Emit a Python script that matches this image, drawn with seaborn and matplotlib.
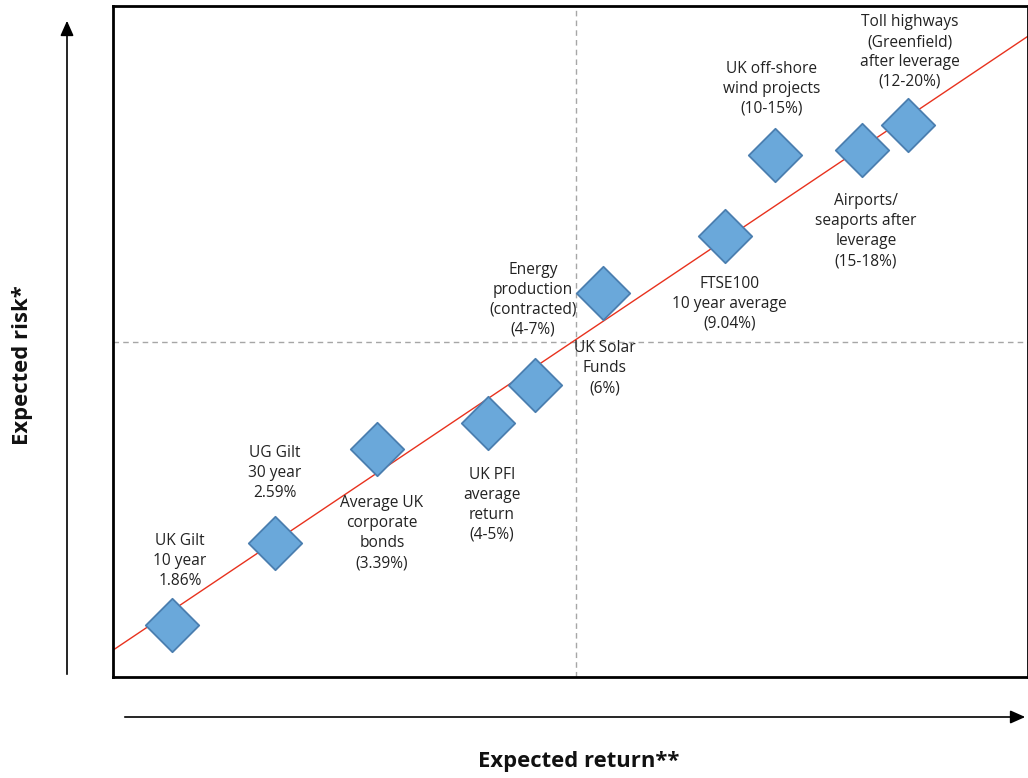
import numpy as np
import pandas as pd
import matplotlib
matplotlib.use('Agg')
import matplotlib.pyplot as plt
import seaborn as sns

# Values (arbitrary 0-100 units on both axes)
assets = ['UK Gilt 10y', 'UG Gilt 30y', 'Avg UK corp bonds', 'UK PFI', 'UK Solar Funds',
          'Energy production', 'FTSE100', 'UK off-shore wind', 'Airports/seaports', 'Toll highways']
expected_return = [6.4, 17.7, 28.9, 41.0, 46.1, 53.6, 66.9, 72.4, 81.9, 86.9]
expected_risk = [7.8, 20.0, 34.0, 37.9, 43.5, 57.2, 65.7, 77.8, 78.5, 82.3]

labels = ['UK Gilt\n10 year\n1.86%',
          'UG Gilt\n30 year\n2.59%',
          'Average UK\ncorporate\nbonds\n(3.39%)',
          'UK PFI\naverage\nreturn\n(4-5%)',
          'UK Solar\nFunds\n(6%)',
          'Energy\nproduction\n(contracted)\n(4-7%)',
          'FTSE100\n10 year average\n(9.04%)',
          'UK off-shore\nwind projects\n(10-15%)',
          'Airports/\nseaports after\nleverage\n(15-18%)',
          'Toll highways\n(Greenfield)\nafter leverage\n(12-20%)']
label_pos = [(7.3, 21.5), (17.7, 34.6), (29.4, 27.1), (41.4, 31.3), (53.7, 50.2),
             (45.9, 61.9), (67.4, 59.8), (72.0, 91.8), (82.3, 72.1), (87.1, 98.8)]

# trend line end points
trend_x = [0, 100]
trend_y = [4.0, 95.5]

df = pd.DataFrame({'asset': assets, 'ret': expected_return, 'risk': expected_risk})

sns.set_style('white')
plt.rcParams['font.family'] = ['Open Sans', 'DejaVu Sans']

fig = plt.figure(figsize=(10.28, 7.78), dpi=100)
ax = fig.add_axes([113 / 1028, 1 - 677 / 778, 915 / 1028, 671 / 778])

ax.axvline(50.6, color='#a6a6a6', lw=1, ls=(0, (4, 3)), zorder=1)
ax.axhline(50.0, color='#a6a6a6', lw=1, ls=(0, (4, 3)), zorder=1)
ax.plot(trend_x, trend_y, color='#e8321e', lw=1, zorder=2)

sns.scatterplot(data=df, x='ret', y='risk', marker='D', s=740, color='#6aa8da',
                edgecolor='#4a7eaf', linewidth=1.3, zorder=3, ax=ax)

for txt, (lx, ly) in zip(labels, label_pos):
    ax.text(lx, ly, txt, ha='center', va='top', fontsize=11.2, color='#222222',
            linespacing=1.33, zorder=4)

ax.set_xlim(0, 100)
ax.set_ylim(0, 100)
ax.set_xticks([])
ax.set_yticks([])
ax.set_xlabel('')
ax.set_ylabel('')
for sp in ax.spines.values():
    sp.set_color('black')
    sp.set_linewidth(2)

# axis arrows outside the box
arrow_style = '-|>,head_length=0.45,head_width=0.2'
fig.add_artist(matplotlib.patches.FancyArrowPatch(
    (67 / 1028, 1 - 677 / 778), (67 / 1028, 1 - 18 / 778), transform=fig.transFigure,
    arrowstyle=arrow_style, mutation_scale=20, color='black', lw=1.2))
fig.add_artist(matplotlib.patches.FancyArrowPatch(
    (122 / 1028, 1 - 717 / 778), (1028 / 1028, 1 - 717 / 778), transform=fig.transFigure,
    arrowstyle=arrow_style, mutation_scale=20, color='black', lw=1.2))

fig.text(23 / 1028, 1 - 365 / 778, 'Expected risk*', rotation=90, ha='center', va='center',
         fontsize=15.8, fontweight='bold', color='#111111')
fig.text(579 / 1028, 1 - 762 / 778, 'Expected return**', ha='center', va='center',
         fontsize=15.8, fontweight='bold', color='#111111')

fig.savefig('out.png', dpi=100)
